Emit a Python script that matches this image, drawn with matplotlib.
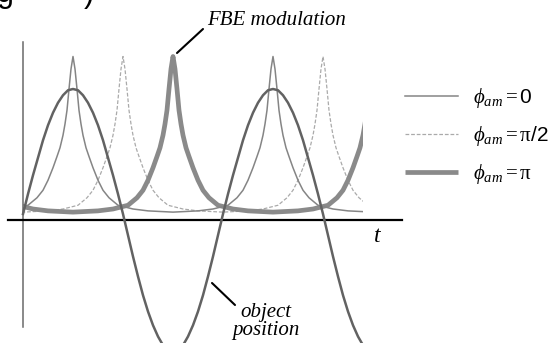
import numpy as np
import matplotlib
matplotlib.use("Agg")
import matplotlib.pyplot as plt
from matplotlib.patches import Rectangle

# ---------------------------------------------------------------- data
# object position (time in periods, amplitude = 1 at the top)
pos_t = [0.000, 0.025, 0.050, 0.075, 0.100, 0.125, 0.150, 0.175, 0.200, 0.225,
         0.250, 0.275, 0.300, 0.325, 0.350, 0.375, 0.400, 0.425, 0.450, 0.475,
         0.500, 0.525, 0.550, 0.575, 0.600, 0.625, 0.650, 0.675, 0.700, 0.725,
         0.750, 0.775, 0.800, 0.825, 0.850, 0.875, 0.900, 0.925, 0.950, 0.975,
         1.000, 1.025, 1.050, 1.075, 1.100, 1.125, 1.150, 1.175, 1.200, 1.225,
         1.250, 1.275, 1.300, 1.325, 1.350, 1.375, 1.400, 1.425, 1.450, 1.475,
         1.500, 1.525, 1.550, 1.575, 1.600, 1.625, 1.650, 1.675, 1.700, 1.725,
         1.750]
pos_v = [0.00, 0.16, 0.31, 0.45, 0.59, 0.71, 0.81, 0.89, 0.95, 0.99,
         1.00, 0.99, 0.95, 0.89, 0.81, 0.71, 0.59, 0.45, 0.31, 0.16,
         0.00, -0.17, -0.34, -0.50, -0.65, -0.78, -0.89, -0.98, -1.05, -1.09,
         -1.10, -1.09, -1.05, -0.98, -0.89, -0.78, -0.65, -0.50, -0.34, -0.17,
         0.00, 0.16, 0.31, 0.45, 0.59, 0.71, 0.81, 0.89, 0.95, 0.99,
         1.00, 0.99, 0.95, 0.89, 0.81, 0.71, 0.59, 0.45, 0.31, 0.16,
         0.00, -0.17, -0.34, -0.50, -0.65, -0.78, -0.89, -0.98, -1.05, -1.09,
         -1.10]

# one FBE resonance peak: offset from its centre vs height
peak_dt = [0.0, 0.01, 0.02, 0.03, 0.04, 0.05, 0.065, 0.08, 0.10, 0.125,
           0.15, 0.18, 0.225, 0.30, 0.375, 0.50]
peak_dv = [1.26, 1.16, 1.00, 0.83, 0.72, 0.63, 0.53, 0.46, 0.37, 0.27,
           0.19, 0.13, 0.07, 0.04, 0.025, 0.015]

# peak centres for each modulation phase
centres_0 = [-0.75, 0.25, 1.25, 2.25]
centres_half = [-0.5, 0.5, 1.5, 2.5]
centres_pi = [-0.25, 0.75, 1.75]
T_END = 1.7

labels = [r"$\phi_{am}=$0", r"$\phi_{am}=\mathrm{π}$/2", r"$\phi_{am}=\mathrm{π}$"]

# ---------------------------------------------------------------- style
plt.rcParams.update({
    "mathtext.fontset": "custom",
    "mathtext.rm": "Liberation Serif",
    "mathtext.it": "Liberation Serif:italic",
    "mathtext.fallback": "cm",
})
C_POS = "#626262"
C_THIN = "#858585"
C_DASH = "#aaaaaa"
C_THICK = "#8a8a8a"
SERIF_IT = dict(family="Liberation Serif", style="italic")
LINE = dict(arrowstyle="-", color="black", lw=1.5, shrinkA=0, shrinkB=0)


def chain(centres):
    dt = np.concatenate([-np.array(peak_dt[:0:-1]), peak_dt])
    dv = np.concatenate([peak_dv[:0:-1], peak_dv])
    t = np.concatenate([c + dt for c in centres])
    v = np.tile(dv, len(centres))
    return t, v


fig = plt.figure(figsize=(5.49, 3.43), dpi=100)
ax = fig.add_axes([0, 0, 1, 1])
ax.set_xlim(-0.115, 2.63)
ax.set_ylim(-1.032, 1.712)
ax.patch.set_visible(False)

clip = Rectangle((0, -2), T_END, 5, transform=ax.transData)
l0, = ax.plot(*chain(centres_0), color=C_THIN, lw=1.1, label=labels[0], zorder=3)
l1, = ax.plot(*chain(centres_half), color=C_DASH, lw=0.9, ls=(0, (3, 1.5)),
              label=labels[1], zorder=2)
l2, = ax.plot(*chain(centres_pi), color=C_THICK, lw=3.4, label=labels[2],
              solid_capstyle="butt", zorder=2)
for ln in (l0, l1, l2):
    ln.set_clip_path(clip)
ax.plot(pos_t, pos_v, color=C_POS, lw=1.8, zorder=4)

# axes as crossing lines
for s in ("top", "right"):
    ax.spines[s].set_visible(False)
ax.spines["left"].set_position(("data", 0))
ax.spines["left"].set_bounds(-0.904, 1.376)
ax.spines["left"].set_color("#6a6a6a")
ax.spines["left"].set_linewidth(1.1)
ax.spines["bottom"].set_position(("data", -0.048))
ax.spines["bottom"].set_bounds(-0.075, 1.895)
ax.spines["bottom"].set_color("black")
ax.spines["bottom"].set_linewidth(1.6)
ax.set_xticks([])
ax.set_yticks([])

ax.text(1.77, -0.18, "t", fontsize=17, ha="center", va="center", **SERIF_IT)

# callouts
ax.annotate("", xy=(0.77, 1.288), xytext=(0.90, 1.48), arrowprops=LINE)
ax.text(0.92, 1.545, "FBE modulation", fontsize=15, ha="left", va="center",
        **SERIF_IT)
ax.annotate("", xy=(0.945, -0.552), xytext=(1.06, -0.728), arrowprops=LINE)
ax.text(1.215, -0.86, "object\nposition", fontsize=15, ha="center",
        va="center", linespacing=0.95, **SERIF_IT)

leg = ax.legend(handles=[l0, l1, l2], loc="upper left",
                bbox_to_anchor=(405 / 549, 1 - 86 / 343), frameon=False,
                prop={"family": "Liberation Sans", "size": 15},
                handlelength=2.55, handletextpad=0.7, labelspacing=0.68,
                borderpad=0, borderaxespad=0)

# remnants of the caption line cut off at the top
fig.text(-3 / 549, 1 - 2 / 343, "g", fontsize=22, family="Liberation Sans",
         va="baseline")
fig.text(84 / 549, 1 - 2 / 343, ")", fontsize=22, family="Liberation Sans",
         va="baseline")

fig.savefig("out.png", dpi=100)
